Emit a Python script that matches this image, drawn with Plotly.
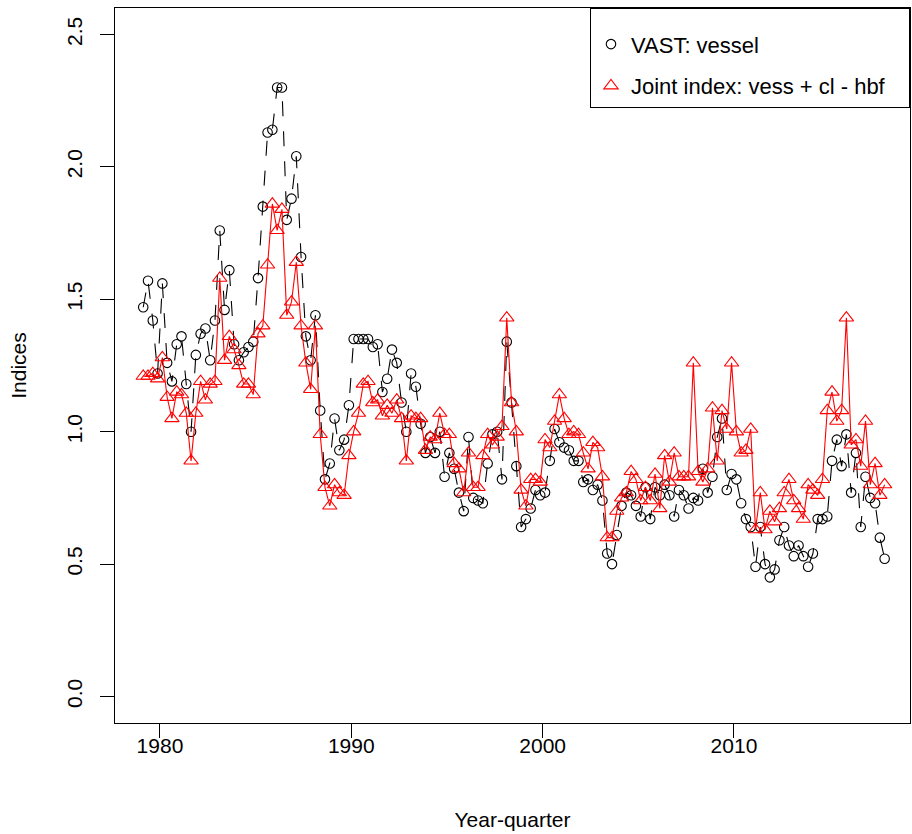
import plotly.graph_objects as go

years = list(range(1979, 2018))
quarters = [1, 2, 3, 4]

vast_vessel = [
    1.47, 1.57, 1.42, 1.22,
    1.56, 1.26, 1.19, 1.33,
    1.36, 1.18, 1.00, 1.29,
    1.37, 1.39, 1.27, 1.42,
    1.76, 1.46, 1.61, 1.33,
    1.27, 1.30, 1.32, 1.34,
    1.58, 1.85, 2.13, 2.14,
    2.30, 2.30, 1.80, 1.88,
    2.04, 1.66, 1.36, 1.27,
    1.44, 1.08, 0.82, 0.88,
    1.05, 0.93, 0.97, 1.10,
    1.35, 1.35, 1.35, 1.35,
    1.32, 1.33, 1.15, 1.20,
    1.31, 1.26, 1.11, 1.00,
    1.22, 1.17, 1.03, 0.92,
    0.98, 0.92, 1.00, 0.83,
    0.92, 0.86, 0.77, 0.70,
    0.98, 0.75, 0.74, 0.73,
    0.88, 0.99, 1.00, 0.82,
    1.34, 1.11, 0.87, 0.64,
    0.67, 0.71, 0.78, 0.76,
    0.77, 0.89, 1.01, 0.96,
    0.94, 0.93, 0.89, 0.89,
    0.81, 0.82, 0.78, 0.80,
    0.74, 0.54, 0.50, 0.61,
    0.72, 0.77, 0.76, 0.72,
    0.68, 0.79, 0.67, 0.79,
    0.76, 0.80, 0.76, 0.68,
    0.78, 0.76, 0.71, 0.75,
    0.74, 0.86, 0.77, 0.83,
    0.98, 1.05, 0.78, 0.84,
    0.82, 0.73, 0.67, 0.64,
    0.49, 0.64, 0.50, 0.45,
    0.48, 0.59, 0.64, 0.57,
    0.53, 0.57, 0.53, 0.49,
    0.54, 0.67, 0.67, 0.68,
    0.89, 0.97, 0.87, 0.99,
    0.77, 0.92, 0.64, 0.83,
    0.75, 0.73, 0.60, 0.52,
]

joint_index = [
    1.21, 1.21, 1.22, 1.20,
    1.28, 1.13, 1.05, 1.15,
    1.14, 1.07, 0.89, 1.07,
    1.19, 1.12, 1.18, 1.19,
    1.58, 1.27, 1.36, 1.31,
    1.25, 1.18, 1.18, 1.14,
    1.37, 1.40, 1.63, 1.86,
    1.76, 1.84, 1.44, 1.49,
    1.64, 1.40, 1.26, 1.16,
    1.40, 0.99, 0.79, 0.72,
    0.80, 0.77, 0.76, 0.91,
    1.00, 1.07, 1.18, 1.19,
    1.11, 1.12, 1.06, 1.10,
    1.07, 1.12, 1.05, 0.89,
    1.06, 1.05, 1.05, 0.93,
    0.98, 0.97, 1.07, 0.99,
    0.99, 0.88, 0.86, 0.77,
    0.92, 0.79, 0.79, 0.91,
    0.99, 0.95, 0.98, 1.02,
    1.43, 1.11, 1.00, 0.78,
    0.72, 0.82, 0.82, 0.81,
    0.97, 0.94, 1.04, 1.14,
    1.05, 0.99, 1.00, 0.99,
    0.92, 0.86, 0.96, 0.94,
    0.83, 0.60, 0.60, 0.70,
    0.75, 0.77, 0.85, 0.82,
    0.74, 0.79, 0.74, 0.84,
    0.71, 0.91, 0.81, 0.92,
    0.83, 0.83, 0.83, 1.26,
    0.85, 0.81, 0.86, 1.09,
    0.89, 1.08, 1.01, 1.26,
    1.00, 0.92, 0.93, 1.01,
    0.63, 0.77, 0.63, 0.70,
    0.66, 0.71, 0.77, 0.82,
    0.74, 0.71, 0.67, 0.80,
    0.78, 0.76, 0.82, 1.08,
    1.15, 1.04, 1.08, 1.43,
    0.95, 0.97, 0.87, 1.04,
    0.80, 0.88, 0.76, 0.80,
]

series_names = ["VAST: vessel", "Joint index: vess + cl - hbf"]
x_ticks = [1980, 1990, 2000, 2010]
y_ticks = [0.0, 0.5, 1.0, 1.5, 2.0, 2.5]

time = [y + (q - 0.5) / 4 for y in years for q in quarters]

FONT = "Liberation Sans, Arial, sans-serif"
PAD = "\u00a0\u00a0\u00a0"

fig = go.Figure()
fig.add_trace(go.Scatter(
    x=time, y=vast_vessel, mode="lines+markers", showlegend=False,
    line=dict(color="black", width=1.1, dash="longdash"),
    marker=dict(symbol="circle-open", size=9.5, color="black", line=dict(width=1.1)),
))
fig.add_trace(go.Scatter(
    x=time, y=joint_index, mode="lines+markers", showlegend=False,
    line=dict(color="red", width=1.1),
    marker=dict(symbol="triangle-up-open", size=12.5, color="red", line=dict(width=1.1)),
))
# legend entries (points only, as in the original)
fig.add_trace(go.Scatter(
    x=[None], y=[None], mode="markers", name=series_names[0], legendgroup="a",
    marker=dict(symbol="circle-open", size=9.5, color="black", line=dict(width=1.1)),
))
fig.add_trace(go.Scatter(
    x=[None], y=[None], mode="markers", name=series_names[1] + PAD, legendgroup="b",
    marker=dict(symbol="triangle-up-open", size=12.5, color="red", line=dict(width=1.1)),
))

fig.update_layout(
    width=912, height=834,
    margin=dict(l=115, r=2, t=8, b=111),
    paper_bgcolor="white", plot_bgcolor="white",
    font=dict(family=FONT, size=21, color="black"),
    legend=dict(
        x=1, y=1, xanchor="right", yanchor="top",
        bordercolor="black", borderwidth=1, bgcolor="white",
        font=dict(size=22),
        title=dict(text=" ", font=dict(size=11)),
        itemwidth=30, tracegroupgap=10,
    ),
    xaxis=dict(
        range=[1977.65, 2019.2], tickvals=x_ticks, ticktext=[str(v) for v in x_ticks],
        showgrid=False, zeroline=False,
        showline=True, linecolor="black", linewidth=1, mirror=True,
        ticks="outside", ticklen=14, tickcolor="black",
        tickfont=dict(size=21), ticklabelstandoff=-10,
        title=dict(text="Year-quarter", font=dict(size=21), standoff=56),
    ),
    yaxis=dict(
        range=[-0.1, 2.6], tickvals=y_ticks, ticktext=[f"{v:.1f}" for v in y_ticks],
        showgrid=False, zeroline=False,
        showline=True, linecolor="black", linewidth=1, mirror=True,
        ticks="outside", ticklen=14, tickcolor="black",
        tickangle=-90, tickfont=dict(size=21), ticklabelstandoff=10,
        title=dict(text="Indices", font=dict(size=21), standoff=30),
    ),
)

fig.write_html("out.html")
